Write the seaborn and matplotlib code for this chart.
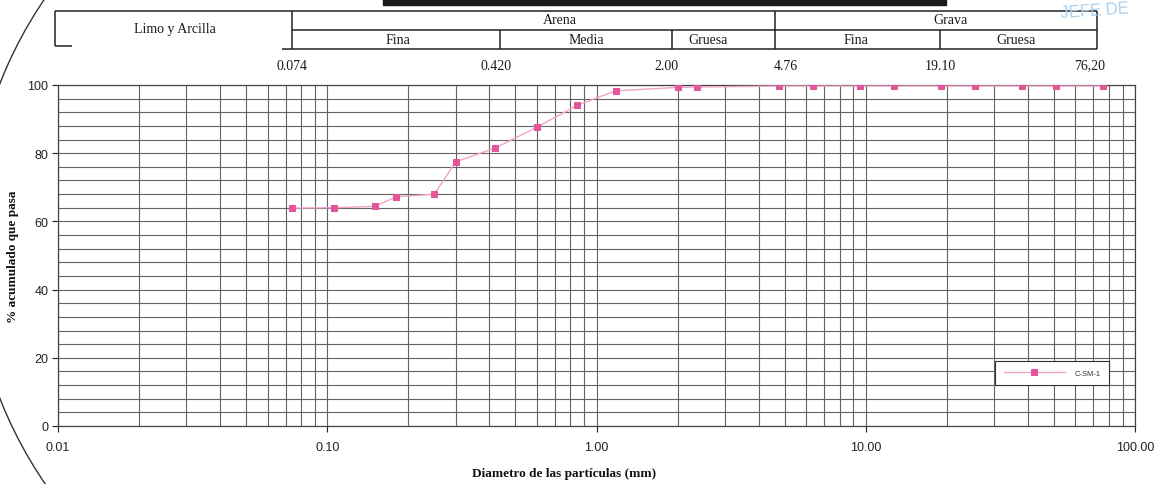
import numpy as np
import pandas as pd
import matplotlib
matplotlib.use("Agg")
import matplotlib.pyplot as plt
import seaborn as sns
from matplotlib.ticker import FixedLocator, LogLocator, NullFormatter, MultipleLocator
from matplotlib.patches import Rectangle, Arc

# curva granulometrica (muestra C-SM-1)
abertura_mm = [0.074, 0.106, 0.15, 0.18, 0.25, 0.30, 0.42, 0.60, 0.85, 1.18,
               2.00, 2.36, 4.76, 6.35, 9.525, 12.7, 19.05, 25.4, 38.1, 50.8, 76.2]
pasa_pct = [63.9, 64.0, 64.4, 67.2, 68.0, 77.5, 81.5, 87.6, 94.1, 98.3,
            99.3, 99.4, 99.7, 99.7, 99.7, 99.7, 99.7, 99.7, 99.7, 99.7, 99.7]
muestra = "C-SM-1"

fracciones = ["Limo y Arcilla", "Arena", "Grava"]
subfracciones = ["Fina", "Media", "Gruesa", "Fina", "Gruesa"]
limites = ["0.074", "0.420", "2.00", "4.76", "19.10", "76,20"]

x_ticks = [0.01, 0.1, 1, 10, 100]
x_ticklabels = ["0.01", "0.10", "1.00", "10.00", "100.00"]
y_ticks = [0, 20, 40, 60, 80, 100]

df = pd.DataFrame({"abertura": abertura_mm, "pasa": pasa_pct})

sns.set_theme(style="white")
plt.rcParams["font.family"] = ["Liberation Sans", "DejaVu Sans"]

fig = plt.figure(figsize=(11.6, 4.85), dpi=100)
fig.patch.set_facecolor("white")
ax = fig.add_axes([58 / 1160, 58 / 485, 1077 / 1160, 341 / 485])
ax.set_xscale("log")
ax.set_xlim(0.01, 100)
ax.set_ylim(0, 100)

sns.lineplot(data=df, x="abertura", y="pasa", ax=ax, color="#f3a3c4", lw=1.0,
             marker="s", markersize=5, markerfacecolor="#e2579b",
             markeredgecolor="#e2579b", label=muestra, zorder=3)

# rejilla
ax.xaxis.set_major_locator(FixedLocator(x_ticks))
ax.set_xticklabels(x_ticklabels)
ax.xaxis.set_minor_locator(LogLocator(base=10, subs=np.arange(2, 10)))
ax.xaxis.set_minor_formatter(NullFormatter())
ax.yaxis.set_major_locator(FixedLocator(y_ticks))
ax.yaxis.set_minor_locator(MultipleLocator(4))
ax.grid(which="both", axis="both", color="#636363", lw=0.8)
ax.tick_params(axis="both", which="major", labelsize=9, colors="#222",
               length=4, width=0.8, direction="out")
ax.tick_params(axis="x", which="major", pad=7)
ax.tick_params(axis="y", which="major", pad=3)
ax.tick_params(which="minor", length=0)
ax.tick_params(axis="x", which="major", bottom=True)
ax.tick_params(axis="y", which="major", left=True)
for s in ax.spines.values():
    s.set_color("#444")
    s.set_linewidth(0.9)

ax.set_xlabel("Diametro de las partículas (mm)", family="Liberation Serif",
              fontweight="bold", fontsize=9.5, color="#111")
ax.set_ylabel("% acumulado que pasa", family="Liberation Serif",
              fontweight="bold", fontsize=9.5, color="#111")
ax.xaxis.set_label_coords(0.47, -0.12)
ax.yaxis.set_label_coords(-0.036, 0.5)

leg = ax.legend(loc="center", bbox_to_anchor=(0.923, 0.155), fontsize=5.5,
                frameon=True, fancybox=False, edgecolor="#333",
                handlelength=8, borderpad=1.1, handletextpad=1.2,
                framealpha=1)
leg.get_frame().set_linewidth(0.8)
for t in leg.get_texts():
    t.set_color("#333")

# cabecera de clasificacion (coordenadas en pixeles)
hdr = fig.add_axes([0, 0, 1, 1], zorder=5)
hdr.set_xlim(0, 1160)
hdr.set_ylim(485, 0)
hdr.axis("off")
lc = "#222"
segs = [((55, 12), (1097, 12)), ((55, 12), (55, 47)), ((55, 47), (72, 47)),
        ((292, 12), (292, 50)), ((292, 31), (1097, 31)), ((282, 50), (1097, 50)),
        ((500, 31), (500, 50)), ((672, 31), (672, 50)), ((775, 12), (775, 50)),
        ((940, 31), (940, 50)), ((1097, 12), (1097, 50))]
for (x0, y0), (x1, y1) in segs:
    hdr.plot([x0, x1], [y0, y1], color=lc, lw=1.1, solid_capstyle="butt")

serif = dict(family="Liberation Serif", color="#1a1a1a")
hdr.text(175, 30, fracciones[0], ha="center", va="center", fontsize=10, **serif)
hdr.text(560, 21, fracciones[1], ha="center", va="center", fontsize=10, **serif)
hdr.text(950, 21, fracciones[2], ha="center", va="center", fontsize=10, **serif)
for xc, t in zip([398, 586, 708, 856, 1016], subfracciones):
    hdr.text(xc, 41, t, ha="center", va="center", fontsize=10, **serif)
for xc, t in zip([292, 496, 666, 786, 940, 1090], limites):
    hdr.text(xc, 66, t, ha="center", va="center", fontsize=10, **serif)

# marcas del escaneo
hdr.add_patch(Rectangle((383, 0), 563, 6, color="#1c1c1c"))
hdr.text(1095, 11, "JEFE DE", ha="center", va="center", fontsize=12,
         color="#a9cfe9", rotation=4)
hdr.add_patch(Arc((400, 242), 860, 860, theta1=145, theta2=215,
                  color="#333", lw=1.0))

fig.savefig("out.png", dpi=100, facecolor="white")
